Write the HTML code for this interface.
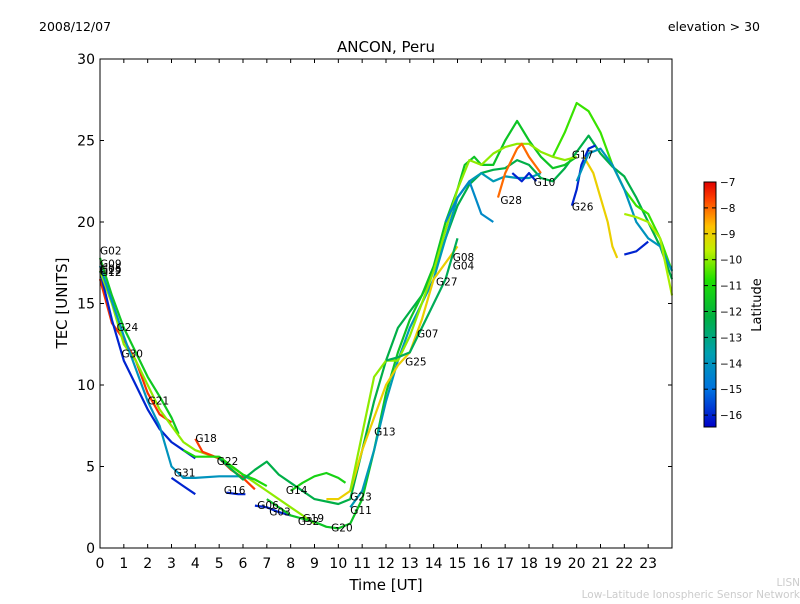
<!DOCTYPE html>
<html><head><meta charset="utf-8"><style>
body{margin:0;background:#fff;width:800px;height:600px;overflow:hidden;font-family:"DejaVu Sans",sans-serif}
</style></head><body>
<svg id="chart" width="800" height="600" xmlns="http://www.w3.org/2000/svg" font-family="DejaVu Sans, sans-serif">
<defs><linearGradient id="jet" x1="0" y1="1" x2="0" y2="0">
<stop offset="0" stop-color="#0000c8"/><stop offset="0.15" stop-color="#0070e0"/><stop offset="0.3" stop-color="#00a0b0"/><stop offset="0.45" stop-color="#00b040"/><stop offset="0.6" stop-color="#20e000"/><stop offset="0.72" stop-color="#c0f000"/><stop offset="0.82" stop-color="#ffc000"/><stop offset="0.93" stop-color="#ff4000"/><stop offset="1" stop-color="#e00000"/>
</linearGradient></defs>
<text x="39" y="31" font-size="12.5">2008/12/07</text>
<text x="760" y="31" font-size="12.5" text-anchor="end">elevation &gt; 30</text>
<text x="386" y="52" font-size="15" text-anchor="middle">ANCON, Peru</text>
<g id="plot"></g>
<rect x="100" y="59" width="572" height="489" fill="none" stroke="#000" stroke-width="1"/>
<g id="axes"></g>
<text x="386" y="590" font-size="15" text-anchor="middle">Time [UT]</text>
<text transform="translate(67,303) rotate(-90)" font-size="15" text-anchor="middle">TEC [UNITS]</text>
<rect x="704" y="182" width="12" height="245" fill="url(#jet)" stroke="#000" stroke-width="1"/>
<g id="cbticks"></g>
<text transform="translate(761,305) rotate(-90)" font-size="13" text-anchor="middle">Latitude</text>
<text x="800" y="586" font-size="10.5" fill="#ccc" text-anchor="end">LISN</text>
<text x="800" y="598" font-size="10.5" fill="#ccc" text-anchor="end">Low-Latitude Ionospheric Sensor Network</text>
</svg>
<script>
const xTicks=[0,1,2,3,4,5,6,7,8,9,10,11,12,13,14,15,16,17,18,19,20,21,22,23];
const yTicks=[0,5,10,15,20,25,30];
const cbTicks=[-7,-8,-9,-10,-11,-12,-13,-14,-15,-16];
const seriesLat=[-11.5,-7.5,-16,-10,-14,-16,-7.6,-11,-12.3,-11.2,-16,-16,-11.6,-10.6,-13.8,-9,-10,-8,-16,-9,-14,-16,-9.8,-16,-14.3,-12.5];
const seriesT=[
[0,0.5,1,1.5,2,2.5,3,3.3],
[0,0.5,1,1.5,2,2.5,3],
[0,0.5,1,1.5,2,2.5,3,3.5,4],
[0,0.5,1,1.5,2,2.5,3,3.5,4,5,6,7,8,8.5,9],
[0,1,2,2.5,3,3.5,4,5,6,6.5],
[3,3.5,4],
[4,4.3,5,5.5,6,6.5],
[3.5,4,5,6,6.5,7],
[5,6,6.5,7,7.5,8,9,10,10.5,11,11.5,12,12.5,13,13.5,14,14.5,15,15.5,16,16.5,17,17.5,18,18.5,19,19.5,20,20.5,21,21.5,22,22.5,23,23.5,24],
[8,8.5,9,9.5,10,10.3],
[5.3,5.8,6.1],
[6.5,7,7.5,8],
[7,8,8.5,9,9.5,10,10.5,11,11.5,12,12.5,13,13.5,14,14.5,15,15.3,15.7,16,16.5,17,17.5,18,18.5,19,19.5,20],
[19,19.5,20,20.5,21,21.5,22,22.5,23,23.5,24],
[10.5,11,11.5,12,12.5,13,13.5,14,14.5,15,15.5,16,16.5,17,17.5,18,18.5],
[9.5,10,10.5,11,11.5,12,12.5,13,13.5,14,14.5,15],
[10.5,11,11.5,12,12.5,13,13.5,14,14.5,15,15.5,16,16.5,17,17.5,18,18.5,19,19.5,20],
[16.7,17,17.5,17.7,18,18.5],
[19.8,20,20.2,20.5,20.8],
[20.3,20.7,21,21.3,21.5,21.7],
[20,20.5,21,21.5,22,22.5,23,23.5,24],
[22,22.5,23],
[22,22.5,23,23.5,24],
[17.3,17.7,18,18.3],
[14.5,15,15.5,16,16.5],
[12,12.5,13,13.5,14,14.5,15]
];
const seriesV=[
[17.8,15.5,13.5,12,10.5,9.3,8,7],
[16.5,13.8,12.8,11.5,9.5,8.2,7.7],
[17,14,11.5,10,8.5,7.3,6.5,6,5.5],
[17,15,12.5,11.5,10,8.5,7.5,6.5,6,5.5,4.5,3.5,2.5,2,1.5],
[17.3,13,9,7.5,5,4.3,4.3,4.4,4.4,4.2],
[4.3,3.8,3.3],
[6.7,5.9,5.5,4.8,4.3,3.6],
[6,5.6,5.6,4.5,4.2,3.8],
[5.5,4.2,4.8,5.3,4.5,4,3,2.7,3,6,9,11.5,13.5,14.5,15.5,17,19,21,22.3,23,23.2,23.3,23.8,23.5,22.7,22.5,23.3,24.3,25.3,24.2,23.4,22.8,21.5,20,18.5,16.5],
[3.5,4,4.4,4.6,4.3,4],
[3.4,3.3,3.3],
[2.6,2.5,2.2,2],
[3,2,1.8,1.6,1.3,1.2,1.5,3,6,9.5,12,14,15.5,17.3,20,22,23.5,24,23.5,23.5,25,26.2,25,24,23.3,23.5,24],
[24,25.5,27.3,26.8,25.5,23.5,22,21,20.5,19,17],
[2.5,3.5,6,9,11.5,13.5,15,16.5,19,21.5,22.5,23,22.5,22.8,22.7,22.7,23],
[3,3,3.5,6,8,10,11.2,12,14,16.5,17.5,18.5],
[3.5,7,10.5,11.5,11.5,13,15,17,19.5,22,23.8,23.5,24.2,24.6,24.8,24.8,24.3,24,23.8,24],
[21.5,23,24.5,24.8,24,23],
[21,22,23.5,24.5,24.7],
[24,23,21.5,20,18.5,17.8],
[22.5,24.2,24.5,23.5,22,20,19,18.5,17],
[18,18.2,18.8],
[20.5,20.3,20,19,15.5],
[23,22.5,23,22.5],
[20,21.5,22.5,20.5,20],
[11.5,11.7,12,13.5,15,16.5,19]
];
const prnNames=["G02","G09","G05","G29","G12","G24","G30","G21","G18","G31","G22","G16","G06","G03","G14","G19","G32","G20","G11","G23","G13","G25","G07","G27","G04","G08","G28","G10","G17","G26"];
const prnT=[0,0,0,0,0,0.7,0.9,2,4,3.1,4.9,5.2,6.6,7.1,7.8,8.5,8.3,9.7,10.5,10.5,11.5,12.8,13.3,14.1,14.8,14.8,16.8,18.2,19.8,19.8];
const prnV=[18,17.2,16.9,16.8,16.7,13.3,11.7,8.8,6.5,4.4,5.1,3.3,2.4,2,3.3,1.6,1.4,1,2.1,2.9,6.9,11.2,12.9,16.1,17.1,17.6,21.1,22.2,23.9,20.7];

const X0=100,X1=672,Y0=548,Y1=59;
const xs=t=>X0+(X1-X0)*t/24;
const ys=v=>Y0-(Y0-Y1)*v/30;
const stops=[[0,[0,0,200]],[0.15,[0,112,224]],[0.3,[0,160,176]],[0.45,[0,176,64]],[0.6,[32,224,0]],[0.72,[192,240,0]],[0.82,[255,192,0]],[0.93,[255,64,0]],[1,[224,0,0]]];
function color(lat){let f=(lat+16.45)/(16.45-7);f=Math.max(0,Math.min(1,f));
 for(let i=1;i<stops.length;i++){if(f<=stops[i][0]){const a=stops[i-1],b=stops[i];const u=(f-a[0])/(b[0]-a[0]);const c=a[1].map((v,k)=>Math.round(v+(b[1][k]-v)*u));return`rgb(${c})`;}}return'rgb(224,0,0)';}
const NS='http://www.w3.org/2000/svg';
const plot=document.getElementById('plot');
seriesT.forEach((ts,i)=>{
 const p=document.createElementNS(NS,'polyline');
 p.setAttribute('points',ts.map((t,j)=>xs(t).toFixed(1)+','+ys(seriesV[i][j]).toFixed(1)).join(' '));
 p.setAttribute('fill','none');p.setAttribute('stroke',color(seriesLat[i]));p.setAttribute('stroke-width','2.2');p.setAttribute('stroke-linejoin','round');
 
 
 plot.appendChild(p);
});
prnNames.forEach((n,i)=>{
 const t=document.createElementNS(NS,'text');
 t.setAttribute('x',xs(prnT[i]));t.setAttribute('y',ys(prnV[i]));t.setAttribute('font-size','10.5');t.textContent=n;
 
 
 plot.appendChild(t);
});
const ax=document.getElementById('axes');
xTicks.forEach(v=>{
 const x=xs(v);
 ax.insertAdjacentHTML('beforeend',`<line x1="${x}" y1="548" x2="${x}" y2="544" stroke="#000"/><line x1="${x}" y1="59" x2="${x}" y2="63" stroke="#000"/>`);
 const t=document.createElementNS(NS,'text');t.setAttribute('x',x);t.setAttribute('y',568);t.setAttribute('font-size','14');t.setAttribute('text-anchor','middle');t.textContent=v;
 
 
 ax.appendChild(t);
});
yTicks.forEach(v=>{
 const y=ys(v);
 ax.insertAdjacentHTML('beforeend',`<line x1="100" y1="${y}" x2="104" y2="${y}" stroke="#000"/><line x1="672" y1="${y}" x2="668" y2="${y}" stroke="#000"/>`);
 const t=document.createElementNS(NS,'text');t.setAttribute('x',95);t.setAttribute('y',y+5);t.setAttribute('font-size','14');t.setAttribute('text-anchor','end');t.textContent=v;
 
 
 ax.appendChild(t);
});
const cb=document.getElementById('cbticks');
cbTicks.forEach(v=>{
 const y=182+(-7-v)*25.9;
 cb.insertAdjacentHTML('beforeend',`<line x1="704" y1="${y}" x2="708" y2="${y}" stroke="#000"/><line x1="716" y1="${y}" x2="712" y2="${y}" stroke="#000"/>`);
 const t=document.createElementNS(NS,'text');t.setAttribute('x',720);t.setAttribute('y',y+4);t.setAttribute('font-size','10.5');t.textContent='\u2212'+(-v);
 
 
 cb.appendChild(t);
});
</script>
</body></html>
